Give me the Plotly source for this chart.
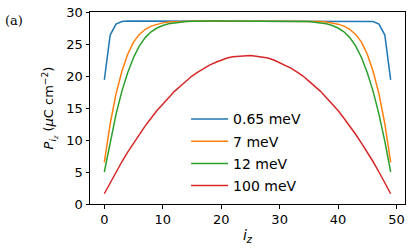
import plotly.graph_objects as go

iz = list(range(50))

p_065 = [19.4, 26.4, 28.1, 28.5] + [28.6] * 42 + [28.5, 28.1, 26.4, 19.4]

orange_half = [6.5, 12.5, 17.2, 20.7, 23.4, 25.3, 26.5, 27.3, 27.8, 28.1,
               28.3, 28.45, 28.5, 28.55] + [28.6] * 11
p_7 = orange_half + orange_half[::-1]

green_half = [5.0, 9.8, 14.0, 17.6, 20.5, 22.9, 24.7, 26.0, 26.9, 27.5,
              27.9, 28.15, 28.3, 28.4, 28.5, 28.55] + [28.6] * 9
p_12 = green_half + green_half[::-1]

red_half = [1.6, 3.3, 5.0, 6.6, 8.1, 9.5, 10.9, 12.2, 13.4, 14.6,
            15.6, 16.6, 17.6, 18.4, 19.2, 20.0, 20.6, 21.2, 21.7, 22.1,
            22.5, 22.8, 23.0, 23.1, 23.2]
p_100 = red_half + red_half[::-1]

series = [
    ("0.65 meV", p_065, "#1f77b4"),
    ("7 meV", p_7, "#ff7f0e"),
    ("12 meV", p_12, "#2ca02c"),
    ("100 meV", p_100, "#d62728"),
]

fig = go.Figure()
for i, (name, vals, col) in enumerate(series):
    fig.add_trace(go.Scatter(x=iz, y=vals, mode="lines", name=name,
                             line=dict(color=col, width=1.5),
                             legendgroup=f"g{i}"))

font = "DejaVu Sans"
axis_common = dict(showline=True, linecolor="black", linewidth=1, mirror=True,
                   ticks="outside", ticklen=3.5, tickcolor="black", tickwidth=1,
                   showgrid=False, zeroline=False, automargin=False,
                   tickfont=dict(family=font, size=13, color="black"))

fig.update_layout(
    width=415, height=250,
    margin=dict(l=90, r=10, t=12, b=46),
    plot_bgcolor="white", paper_bgcolor="white",
    showlegend=True,
    legend=dict(x=0.305, y=0.524, xanchor="left", yanchor="top",
                font=dict(family=font, size=14, color="black"),
                bgcolor="rgba(0,0,0,0)", tracegroupgap=1,
                traceorder="grouped", itemwidth=37),
    xaxis=dict(range=[-2.45, 51.45], tickvals=[0, 10, 20, 30, 40, 50],
               title=dict(text="<i>i<sub>z</sub></i>",
                          font=dict(family=font, size=14, color="black"),
                          standoff=4),
               **axis_common),
    yaxis=dict(range=[0, 30], tickvals=[0, 5, 10, 15, 20, 25, 30],
               title=dict(text="<i>P</i><sub><i>i<sub>z</sub></i></sub> (<i>μ</i>C cm<sup>−2</sup>)",
                          font=dict(family=font, size=13, color="black"),
                          standoff=9),
               **axis_common),
)

fig.add_annotation(text="(a)", xref="paper", yref="paper", x=-0.24, y=0.955,
                   xanchor="center", yanchor="middle", showarrow=False,
                   font=dict(family="DejaVu Serif", size=13, color="black"))

fig.write_html("out.html", config={"displayModeBar": False},
               post_script="document.body.style.margin='0';document.body.style.overflow='hidden';")
